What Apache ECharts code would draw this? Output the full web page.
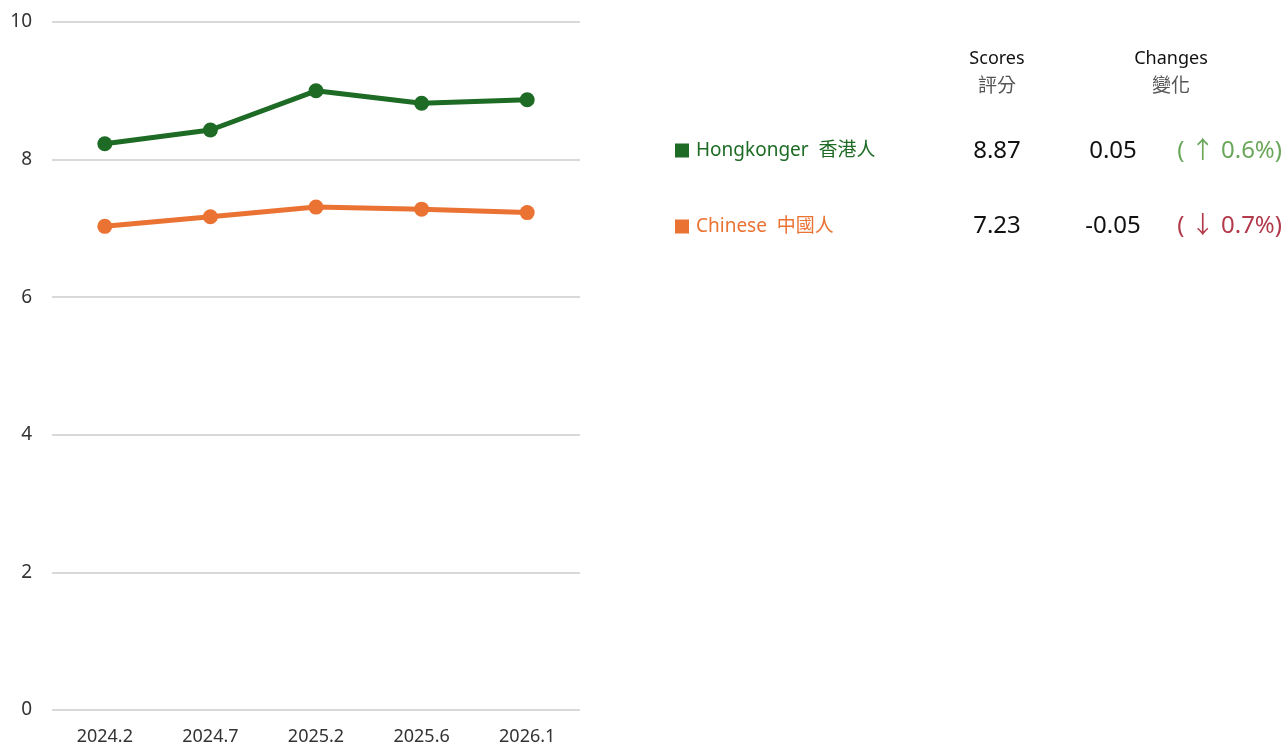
<!DOCTYPE html>
<html>
<head>
<meta charset="utf-8">
<script src="https://cdn.jsdelivr.net/npm/echarts@6/dist/echarts.min.js"></script>
<style>
  html, body { margin: 0; padding: 0; background: #fff; }
  #chart { width: 1283px; height: 747px; }
</style>
</head>
<body>
<div id="chart"></div>
<script>
const categories = ['2024.2', '2024.7', '2025.2', '2025.6', '2026.1'];
const hongkongerScores = [8.23, 8.43, 9.0, 8.82, 8.87];
const chineseScores = [7.03, 7.17, 7.31, 7.28, 7.23];
const yTicks = [0, 2, 4, 6, 8, 10];

const seriesNames = ['Hongkonger  香港人', 'Chinese  中國人'];
const seriesColors = ['#1d6b24', '#ea7333'];
const latestScores = ['8.87', '7.23'];
const changeValues = ['0.05', '-0.05'];
const changePercents = ['( ↑ 0.6%)', '( ↓ 0.7%)'];
const changeColors = ['#6aa75a', '#b23a4a'];

const FONT = '"Noto Sans", "Noto Sans CJK TC", sans-serif';
const chart = echarts.init(document.getElementById('chart'));

// 右侧表格：表头 + 每行数值
const rowY = [151, 226];
const tableText = [];
function txt(x, y, text, fill, size, align) {
  return { type: 'text', x: x, y: y, style: { text: text, fill: fill, font: size + 'px ' + FONT, textAlign: align || 'center', textVerticalAlign: 'middle' } };
}
tableText.push(
  txt(997, 59, 'Scores', '#111', 18),
  txt(997, 87, '評分', '#555', 19),
  txt(1171, 59, 'Changes', '#111', 18),
  txt(1171, 87, '變化', '#555', 19)
);
rowY.forEach((y, i) => {
  tableText.push(
    txt(997, y, latestScores[i], '#111', 24),
    txt(1113, y, changeValues[i], '#111', 24),
    txt(1282, y, changePercents[i], changeColors[i], 24, 'right')
  );
});

chart.setOption({
  animation: false,
  textStyle: { fontFamily: FONT },
  grid: { left: 52, right: 703, top: 22, bottom: 37 },
  legend: {
    orient: 'vertical',
    left: 670,
    top: 136,
    itemGap: 57,
    itemWidth: 14,
    itemHeight: 14,
    icon: 'rect',
    data: seriesNames.map((n, i) => ({ name: n, textStyle: { color: seriesColors[i] } })),
    textStyle: { fontSize: 19, fontFamily: FONT, padding: [0, 0, 0, 2] }
  },
  graphic: tableText,
  xAxis: {
    type: 'category',
    data: categories,
    boundaryGap: true,
    axisLine: { show: false },
    axisTick: { show: false },
    axisLabel: { color: '#333', fontSize: 18, margin: 18 }
  },
  yAxis: {
    type: 'value',
    min: yTicks[0],
    max: yTicks[yTicks.length - 1],
    interval: 2,
    axisLine: { show: false },
    axisTick: { show: false },
    axisLabel: { color: '#333', fontSize: 19, margin: 20 },
    splitLine: { lineStyle: { color: '#d9d9d9', width: 2 } }
  },
  series: [
    {
      name: seriesNames[0],
      type: 'line',
      data: hongkongerScores,
      symbol: 'circle',
      symbolSize: 15,
      itemStyle: { color: seriesColors[0] },
      lineStyle: { color: seriesColors[0], width: 5 }
    },
    {
      name: seriesNames[1],
      type: 'line',
      data: chineseScores,
      symbol: 'circle',
      symbolSize: 15,
      itemStyle: { color: seriesColors[1] },
      lineStyle: { color: seriesColors[1], width: 5 }
    }
  ]
});
</script>
</body>
</html>
